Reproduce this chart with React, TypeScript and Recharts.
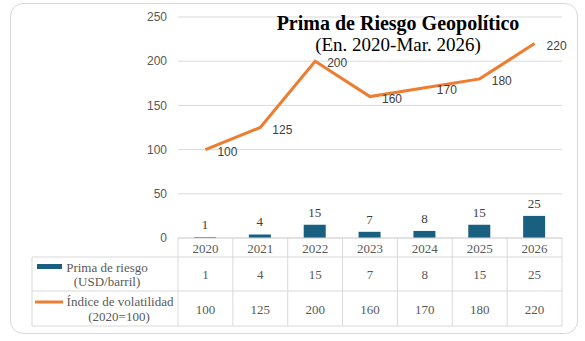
import React from 'react';
import { ComposedChart, Bar, Line, XAxis, YAxis, CartesianGrid, LabelList } from 'recharts';

const years = ['2020', '2021', '2022', '2023', '2024', '2025', '2026'];
const primaRiesgo = [1, 4, 15, 7, 8, 15, 25];
const volatilidad = [100, 125, 200, 160, 170, 180, 220];
const yTicks = [0, 50, 100, 150, 200, 250];
const titleText = 'Prima de Riesgo Geopolítico';
const subtitleText = '(En. 2020-Mar. 2026)';
const primaLabel = ['Prima de riesgo', '(USD/barril)'];
const volLabel = ['Índice de volatilidad', '(2020=100)'];

const data = years.map((y, i) => ({ year: y, prima: primaRiesgo[i], vol: volatilidad[i] }));

const BAR_COLOR = '#185F80';
const LINE_COLOR = '#ED7D31';
const GRID = '#D9D9D9';
const TXT = '#595959';
const SERIF = '"Liberation Serif", "DejaVu Serif", serif';
const SANS = '"Liberation Sans", Arial, sans-serif';

const W = 585;
const H = 341;
const M = { top: 17, right: 23, bottom: 15, left: 0 };
const YW = 178;
const XH = 88;
const TABLE_LEFT = 32;

function TableTick(props: any) {
  const { x, y, payload } = props;
  const i = payload.index;
  const plotW = W - M.left - M.right - YW;
  const half = payload.offset && payload.offset > 0 ? payload.offset : plotW / years.length / 2;
  const l = x - half;
  const r = x + half;
  const r1 = y + 19;
  const r2 = y + 53;
  const r3 = y + 88;
  const tstyle = { fontFamily: SERIF, fontSize: 13, fill: TXT } as any;
  return (
    <g>
      <line x1={l} y1={y} x2={l} y2={r3} stroke={GRID} />
      {i === years.length - 1 && <line x1={r} y1={y} x2={r} y2={r3} stroke={GRID} />}
      <line x1={l} y1={r1} x2={r} y2={r1} stroke={GRID} />
      <line x1={l} y1={r2} x2={r} y2={r2} stroke={GRID} />
      <line x1={l} y1={r3} x2={r} y2={r3} stroke={GRID} />
      <text x={x} y={y + 10} textAnchor="middle" dominantBaseline="central" {...tstyle}>{payload.value}</text>
      <text x={x} y={y + 36} textAnchor="middle" dominantBaseline="central" {...tstyle}>{primaRiesgo[i]}</text>
      <text x={x} y={y + 71} textAnchor="middle" dominantBaseline="central" {...tstyle}>{volatilidad[i]}</text>
      {i === 0 && (
        <g>
          <line x1={TABLE_LEFT} y1={r1} x2={l} y2={r1} stroke={GRID} />
          <line x1={TABLE_LEFT} y1={r2} x2={l} y2={r2} stroke={GRID} />
          <line x1={TABLE_LEFT} y1={r3} x2={l} y2={r3} stroke={GRID} />
          <line x1={TABLE_LEFT} y1={r1} x2={TABLE_LEFT} y2={r3} stroke={GRID} />
          <rect x={37} y={y + 26} width={25} height={5} fill={BAR_COLOR} />
          <text x={107} y={y + 29} textAnchor="middle" dominantBaseline="central" {...tstyle}>{primaLabel[0]}</text>
          <text x={107} y={y + 43} textAnchor="middle" dominantBaseline="central" {...tstyle}>{primaLabel[1]}</text>
          <line x1={35} y1={y + 64} x2={63} y2={y + 64} stroke={LINE_COLOR} strokeWidth={3} />
          <text x={120} y={y + 63} textAnchor="middle" dominantBaseline="central" {...tstyle}>{volLabel[0]}</text>
          <text x={119} y={y + 78} textAnchor="middle" dominantBaseline="central" {...tstyle}>{volLabel[1]}</text>
        </g>
      )}
    </g>
  );
}

function LineLabel(props: any) {
  const { x, y, value } = props;
  return (
    <text x={x + 12} y={y + 2} dominantBaseline="central" fontFamily={SANS} fontSize={12} fill="#404040">
      {value}
    </text>
  );
}

export default function App() {
  return (
    <div style={{ position: 'absolute', left: 0, top: 0, width: W, height: H, background: '#fff' }}>
      <div
        style={{
          position: 'absolute',
          left: 10,
          top: 3,
          width: 566,
          height: 329,
          border: '1px solid #D9D9D9',
          borderRadius: 13,
        }}
      />
      <div style={{ position: 'absolute', left: 0, top: 0 }}>
        <ComposedChart width={W} height={H} data={data} margin={M}>
          <CartesianGrid vertical={false} stroke={GRID} />
          <XAxis
            dataKey="year"
            height={XH}
            interval={0}
            tickSize={0}
            tickMargin={0}
            tickLine={false}
            axisLine={{ stroke: GRID }}
            tick={<TableTick />}
          />
          <YAxis
            width={YW}
            domain={[0, 250]}
            ticks={yTicks}
            axisLine={false}
            tickLine={false}
            tickMargin={5}
            tick={{ fill: TXT, fontSize: 12, fontFamily: SANS }}
          />
          <Bar dataKey="prima" fill={BAR_COLOR} barSize={22} isAnimationActive={false}>
            <LabelList dataKey="prima" position="top" offset={8} fill="#404040" fontSize={13} fontFamily={SERIF} />
          </Bar>
          <Line
            dataKey="vol"
            stroke={LINE_COLOR}
            strokeWidth={3}
            dot={false}
            activeDot={false}
            isAnimationActive={false}
            label={<LineLabel />}
          />
        </ComposedChart>
      </div>
      <div
        style={{
          position: 'absolute',
          left: 248,
          top: 12.25,
          width: 300,
          textAlign: 'center',
          fontFamily: SERIF,
          fontSize: 20,
          lineHeight: '23px',
          fontWeight: 'bold',
          color: '#000',
          whiteSpace: 'nowrap',
        }}
      >
        {titleText}
      </div>
      <div
        style={{
          position: 'absolute',
          left: 248,
          top: 33,
          width: 300,
          textAlign: 'center',
          fontFamily: SERIF,
          fontSize: 19,
          lineHeight: '23px',
          color: '#000',
          whiteSpace: 'nowrap',
        }}
      >
        {subtitleText}
      </div>
    </div>
  );
}
